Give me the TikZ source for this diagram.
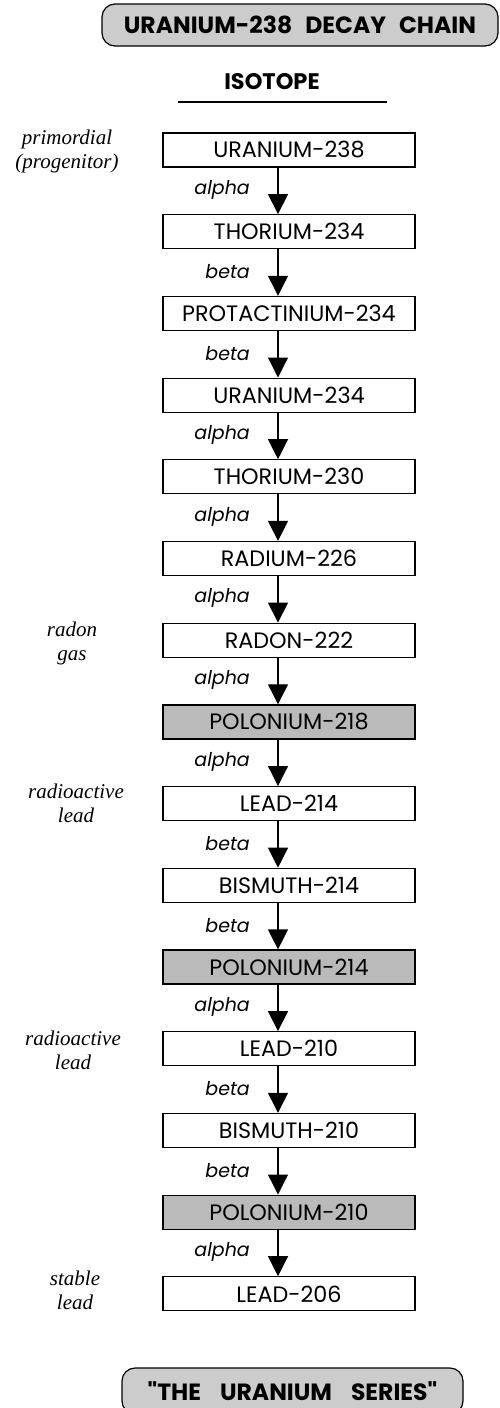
\documentclass[tikz,border=0pt]{standalone}
\usepackage{fontspec}
\setmainfont{Liberation Serif}
\newfontfamily\geo{Poppins}
\usetikzlibrary{arrows.meta,calc}
\begin{document}
\begin{tikzpicture}[x=1pt,y=-1pt,
  iso/.style={draw,line width=1.2pt,minimum width=252pt,minimum height=34pt,inner sep=0pt,font=\geo\fontsize{22.3}{23}\selectfont},
  hot/.style={iso,fill=black!27},
  arr/.style={line width=1.2pt,-{Triangle[width=20pt,length=20pt]}},
  dec/.style={anchor=east,inner sep=0pt,font=\geo\itshape\fontsize{19}{20}\selectfont},
  side/.style={align=center,inner sep=0pt,font=\itshape\fontsize{21}{24}\selectfont},
  banner/.style={draw,line width=1.2pt,rounded corners=13pt,fill=black!20,inner sep=0pt,font=\geo\bfseries\fontsize{23.5}{26}\selectfont}
]
\useasboundingbox (0,0) rectangle (500,1408);
\node[banner,minimum width=396pt,minimum height=42pt] (title) at (300,25) {URANIUM-238\hspace{8pt} DECAY\hspace{8pt} CHAIN};
\node[font=\geo\bfseries\fontsize{22.5}{24}\selectfont,inner sep=0pt] (isohead) at (272,82) {ISOTOPE};
\coordinate (ulA) at (178,102);
\coordinate (ulB) at (387,102);
\draw[line width=1.2pt] (ulA) -- (ulB);
\coordinate (ax) at (278,0);
\foreach \i/\name/\st in {0/URANIUM-238/iso,1/THORIUM-234/iso,2/PROTACTINIUM-234/iso,3/URANIUM-234/iso,4/THORIUM-230/iso,5/RADIUM-226/iso,6/RADON-222/iso,7/POLONIUM-218/hot,8/LEAD-214/iso,9/BISMUTH-214/iso,10/POLONIUM-214/hot,11/LEAD-210/iso,12/BISMUTH-210/iso,13/POLONIUM-210/hot,14/LEAD-206/iso}{
  \node[\st] (n\i) at (289,150+81.7*\i) {\name};
}
\foreach \a/\b/\t in {0/1/alpha,1/2/beta,2/3/beta,3/4/alpha,4/5/alpha,5/6/alpha,6/7/alpha,7/8/alpha,8/9/beta,9/10/beta,10/11/alpha,11/12/beta,12/13/beta,13/14/alpha}{
  \draw[arr] (n\a.south -| ax) -- (n\b.north -| ax);
  \node[dec] (d\a) at ($(n\a.south -| ax)!0.5!(n\b.north -| ax)+(-28,-1)$) {\t};
}
\node[side] (s0) at (67,151) {primordial\\(progenitor)};
\node[side] (s6) at (72,643) {radon\\gas};
\node[side] (s8) at (76,803) {radioactive\\lead};
\node[side] (s11) at (73,1050) {radioactive\\lead};
\node[side] (s14) at (75,1290) {stable\\lead};
\node[banner,minimum width=341pt,minimum height=46pt] (series) at (292.5,1391) {"THE\hspace{14pt} URANIUM\hspace{14pt} SERIES"};
\end{tikzpicture}
\end{document}
